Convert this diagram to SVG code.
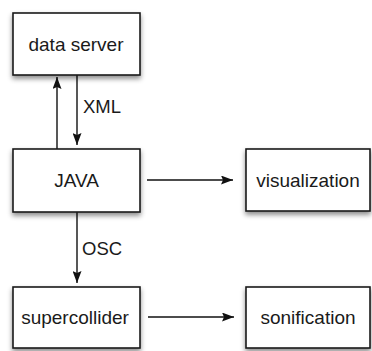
<svg xmlns="http://www.w3.org/2000/svg" width="372" height="351" viewBox="0 0 372 351">
<defs>
<filter id="sh" x="-10%" y="-10%" width="120%" height="130%">
<feDropShadow dx="0" dy="3" stdDeviation="2.5" flood-color="#000" flood-opacity="0.45"/>
</filter>
<marker id="ah" viewBox="0 0 12 9" refX="12" refY="4.5" markerWidth="12" markerHeight="9" markerUnits="userSpaceOnUse" orient="auto">
<path d="M0,0 L12,4.5 L0,9 L2,4.5 Z" fill="#111"/>
</marker>
</defs>
<style>
.box{fill:#fff;stroke:#1a1a1a;stroke-width:1.6;filter:url(#sh)}
.lbl{font-family:"Liberation Sans",Arial,sans-serif;font-size:19px;fill:#1a1a1a;text-anchor:middle}
.el{font-family:"Liberation Sans",Arial,sans-serif;font-size:18.5px;fill:#1a1a1a}
.conn{stroke:#111;stroke-width:1.4;fill:none;marker-end:url(#ah)}
</style>
<rect width="372" height="351" fill="#fff"/>
<g id="connectors">
<line class="conn" x1="57" y1="149" x2="57" y2="77"/>
<line class="conn" x1="77" y1="75" x2="77" y2="145"/>
<line class="conn" x1="77" y1="212" x2="77" y2="283"/>
<line class="conn" x1="147" y1="180" x2="233" y2="180"/>
<line class="conn" x1="148" y1="317" x2="234" y2="317"/>
<text class="el" x="83" y="113">XML</text>
<text class="el" x="82" y="255">OSC</text>
</g>
<g id="data-server">
<rect class="box" x="13" y="13" width="127" height="62"/>
<text class="lbl" x="76" y="51">data server</text>
</g>
<g id="java">
<rect class="box" x="13" y="149" width="127" height="63"/>
<text class="lbl" x="76.5" y="187">JAVA</text>
</g>
<g id="visualization">
<rect class="box" x="246" y="149" width="124" height="62"/>
<text class="lbl" x="308" y="187">visualization</text>
</g>
<g id="supercollider">
<rect class="box" x="13" y="287" width="127" height="61"/>
<text class="lbl" x="75" y="324">supercollider</text>
</g>
<g id="sonification">
<rect class="box" x="246" y="287" width="124" height="61"/>
<text class="lbl" x="308" y="324">sonification</text>
</g>
</svg>
